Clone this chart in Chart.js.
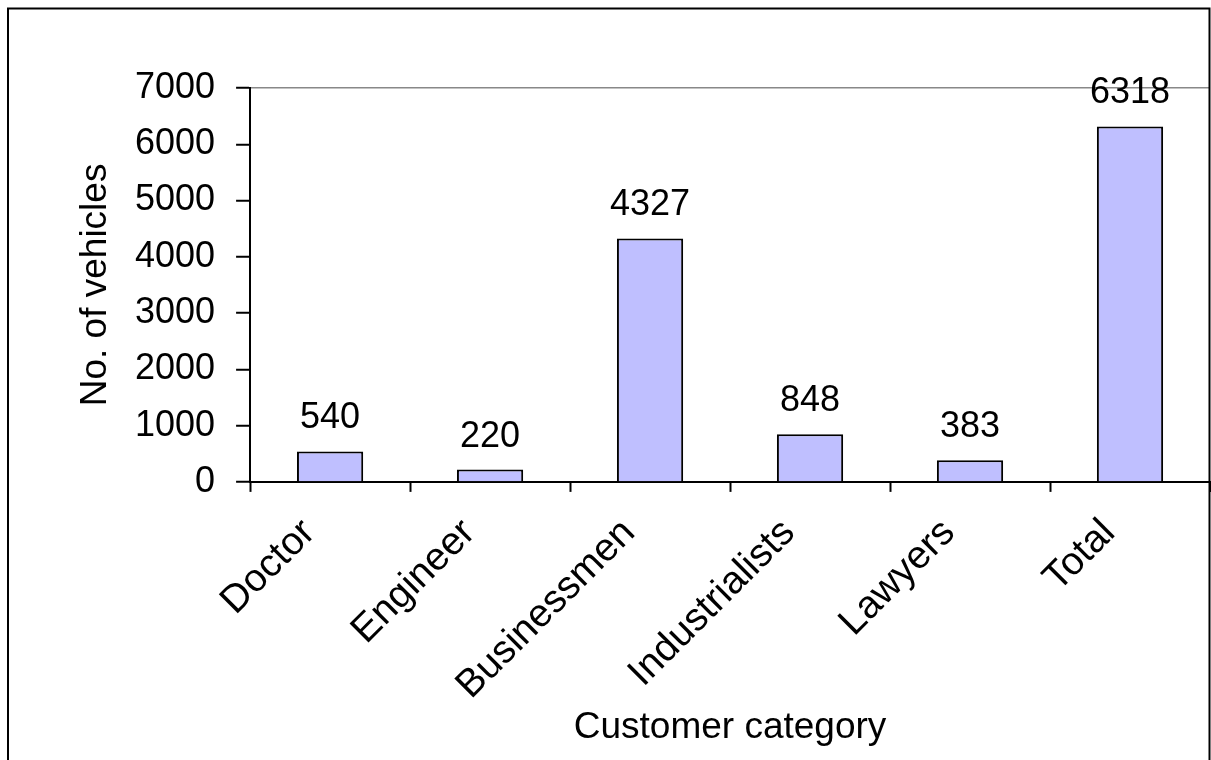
<!DOCTYPE html>
<html>
<head>
<meta charset="utf-8">
<script src="https://cdn.jsdelivr.net/npm/chart.js@4"></script>
<style>
  html, body { margin: 0; padding: 0; background: #fff; }
  #wrap { width: 1211px; height: 760px; }
</style>
</head>
<body>
<div id="wrap"><canvas id="chart" width="1211" height="760"></canvas></div>
<script>
// data
const categories = ['Doctor', 'Engineer', 'Businessmen', 'Industrialists', 'Lawyers', 'Total'];
const vehicles = [540, 220, 4327, 848, 383, 6318];
const yTicks = [0, 1000, 2000, 3000, 4000, 5000, 6000, 7000];

const FONT = 'Liberation Sans, Arial, sans-serif';

// labels on top of the bars
const valueLabels = {
    id: 'valueLabels',
    afterDatasetsDraw(chart) {
        const ctx = chart.ctx;
        const meta = chart.getDatasetMeta(0);
        ctx.save();
        ctx.font = '36px ' + FONT;
        ctx.fillStyle = '#000';
        ctx.textAlign = 'center';
        ctx.textBaseline = 'alphabetic';
        meta.data.forEach((bar, i) => {
            ctx.fillText(String(vehicles[i]), bar.x, bar.y - 23);
        });
        ctx.restore();
    }
};

// outer frame of the chart
const frame = {
    id: 'frame',
    afterDraw(chart) {
        const ctx = chart.ctx;
        ctx.save();
        ctx.strokeStyle = '#000';
        ctx.lineWidth = 2;
        ctx.strokeRect(8, 8.5, 1201.5, 800);
        ctx.restore();
    }
};

new Chart(document.getElementById('chart').getContext('2d'), {
    type: 'bar',
    data: {
        labels: categories,
        datasets: [{
            label: 'No. of vehicles',
            data: vehicles,
            backgroundColor: '#BFBFFF',
            borderColor: '#000',
            borderWidth: 2,
            categoryPercentage: 1,
            barPercentage: 0.414
        }]
    },
    plugins: [valueLabels, frame],
    options: {
        responsive: false,
        animation: false,
        layout: { padding: { left: 60, right: 1, top: 88, bottom: 4 } },
        plugins: {
            legend: { display: false },
            tooltip: { enabled: false }
        },
        scales: {
            x: {
                offset: true,
                grid: {
                    offset: true,
                    drawOnChartArea: false,
                    tickLength: 10,
                    tickColor: '#000',
                    tickWidth: 2
                },
                border: { color: '#000', width: 2 },
                ticks: {
                    color: '#000',
                    font: { family: FONT, size: 39, lineHeight: 1 },
                    minRotation: 45,
                    maxRotation: 45,
                    labelOffset: -21,
                    padding: 21
                },
                title: {
                    display: true,
                    text: 'Customer category',
                    color: '#000',
                    font: { family: FONT, size: 37, lineHeight: 1 },
                    padding: { top: -18, bottom: 10 }
                }
            },
            y: {
                min: 0,
                max: 7000,
                afterBuildTicks(scale) {
                    scale.ticks = yTicks.map(v => ({ value: v }));
                },
                grid: {
                    color: c => (c.tick && c.tick.value === 7000) ? '#888' : 'rgba(0,0,0,0)',
                    lineWidth: 1.5,
                    tickLength: 14,
                    tickColor: '#000',
                    tickWidth: 2
                },
                border: { color: '#000', width: 2 },
                ticks: {
                    color: '#000',
                    font: { family: FONT, size: 36 },
                    padding: 21,
                    callback: v => String(v)
                },
                title: {
                    display: true,
                    text: 'No. of vehicles',
                    color: '#000',
                    font: { family: FONT, size: 37, lineHeight: 1 },
                    padding: { top: 17, bottom: 0 }
                }
            }
        }
    }
});
</script>
</body>
</html>
